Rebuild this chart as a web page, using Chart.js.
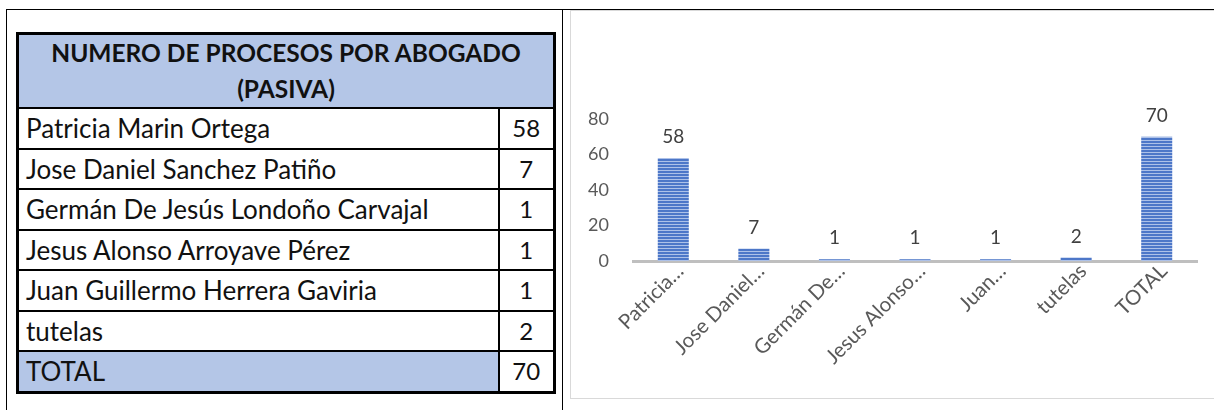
<!DOCTYPE html>
<html>
<head>
<meta charset="utf-8">
<script src="https://cdn.jsdelivr.net/npm/chart.js@4.4.1/dist/chart.umd.min.js"></script>
<style>
  html, body { margin:0; padding:0; background:#fff; width:1214px; height:410px; overflow:hidden; }
  body { position:relative; font-family: Lato, "Open Sans", sans-serif; }
  .ln { position:absolute; background:#000; }
  #tbl { position:absolute; left:16px; top:32px; width:537px; border-collapse:collapse; border:3px solid #000; table-layout:fixed; }
  #tbl td { border:2px solid #000; padding:0 0 0 7px; font-size:26px; color:#111; height:38.5px; line-height:38px; white-space:nowrap; overflow:hidden; }
  #tbl td.v { text-align:center; padding:0; font-size:24px; }
  #tbl th { background:#b4c6e7; font-weight:bold; font-size:24.5px; line-height:36px; height:70px; padding:0; color:#111; border:2px solid #000; }
  #tbl td.tot { background:#b4c6e7; }
  #frame { position:absolute; left:570px; top:10px; width:660px; height:387px; border:1.5px solid #d9d9d9; }
  #wrap { position:absolute; left:572px; top:12px; width:642px; height:384px; }
</style>
</head>
<body>
<div class="ln" style="left:6px;top:9px;width:1208px;height:1px;"></div>
<div class="ln" style="left:6px;top:9px;width:1px;height:401px;"></div>
<div class="ln" style="left:562px;top:9px;width:1px;height:401px;"></div>
<table id="tbl">
  <colgroup><col style="width:481px"><col style="width:56px"></colgroup>
  <thead><tr><th colspan="2" id="title"></th></tr></thead>
  <tbody id="tb"></tbody>
</table>
<div id="frame"></div>
<div id="wrap"><canvas id="c"></canvas></div>
<script>
const titleLines = ["NUMERO DE PROCESOS POR ABOGADO", "(PASIVA)"];
const names = ["Patricia Marin Ortega", "Jose Daniel Sanchez Patiño", "Germán De Jesús Londoño Carvajal", "Jesus Alonso Arroyave Pérez", "Juan Guillermo Herrera Gaviria", "tutelas", "TOTAL"];
const tickLabels = ["Patricia…", "Jose Daniel…", "Germán De…", "Jesus Alonso…", "Juan…", "tutelas", "TOTAL"];
const values = [58, 7, 1, 1, 1, 2, 70];
const yMin = 0, yMax = 80, yStep = 20;

document.getElementById('title').innerHTML = titleLines.join('<br>');
const tb = document.getElementById('tb');
names.forEach((n, i) => {
  const tr = document.createElement('tr');
  const a = document.createElement('td'); a.textContent = n;
  if (i === names.length - 1) a.className = 'tot';
  const b = document.createElement('td'); b.className = 'v'; b.textContent = values[i];
  tr.appendChild(a); tr.appendChild(b); tb.appendChild(tr);
});

function makePattern() {
  const c = document.createElement('canvas'); c.width = 4; c.height = 3;
  const g = c.getContext('2d');
  g.fillStyle = '#4d77c8'; g.fillRect(0, 0, 4, 3);
  g.fillStyle = '#adc1e8'; g.fillRect(0, 2, 4, 1);
  return g.createPattern(c, 'repeat');
}

const valueLabels = {
  id: 'valueLabels',
  afterDatasetsDraw(chart) {
    const ctx = chart.ctx, meta = chart.getDatasetMeta(0);
    ctx.save();
    ctx.font = '19px Lato';
    ctx.fillStyle = '#404040';
    ctx.textAlign = 'center';
    ctx.textBaseline = 'middle';
    meta.data.forEach((bar, i) => ctx.fillText(String(values[i]), bar.x, bar.y - 21));
    ctx.restore();
  }
};

new Chart(document.getElementById('c'), {
  type: 'bar',
  data: {
    labels: tickLabels,
    datasets: [{ data: values, backgroundColor: makePattern(), borderWidth: 0, barPercentage: 0.385, categoryPercentage: 1 }]
  },
  options: {
    responsive: true, maintainAspectRatio: false, animation: false,
    layout: { padding: { top: 107, right: 17, left: 0, bottom: 0 } },
    plugins: { legend: { display: false }, tooltip: { enabled: false } },
    scales: {
      x: {
        grid: { display: false, drawTicks: false },
        border: { display: true, color: '#bfbfbf', width: 3 },
        ticks: { minRotation: 45, maxRotation: 45, autoSkip: false, padding: -2, labelOffset: 7, color: '#595959', font: { family: 'Lato', size: 20.5 } },
        afterFit(s) { s.height = 135; }
      },
      y: {
        min: yMin, max: yMax,
        grid: { display: false, drawTicks: false },
        border: { display: false },
        ticks: { stepSize: yStep, padding: 24, color: '#595959', font: { family: 'Lato', size: 18 } },
        afterFit(s) { s.width = 61; }
      }
    }
  },
  plugins: [valueLabels]
});
</script>
</body>
</html>
